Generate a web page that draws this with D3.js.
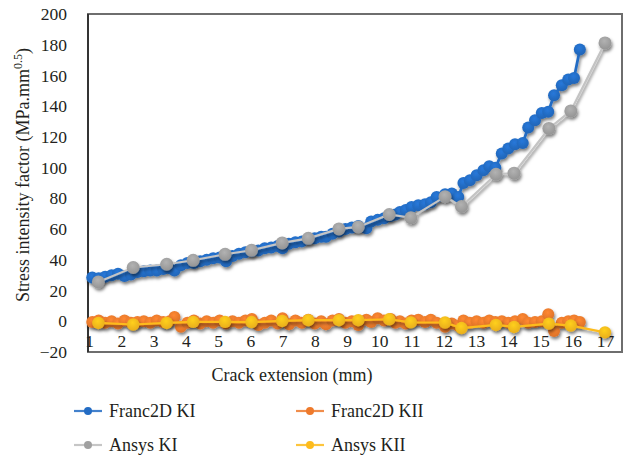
<!DOCTYPE html>
<html>
<head>
<meta charset="utf-8">
<script src="https://cdn.jsdelivr.net/npm/d3@7"></script>
<style>
  html, body { margin: 0; padding: 0; background: #fff; }
  svg { display: block; font-family: "Liberation Serif", "DejaVu Serif", serif; }
</style>
</head>
<body>
<div id="chart"></div>
<script>
// Crack extension (mm) for each solver's crack-growth steps
const francX = [1.10, 1.30, 1.50, 1.70, 1.90, 2.10, 2.30, 2.50, 2.70, 2.90,
  3.10, 3.30, 3.50, 3.65, 3.85, 4.05, 4.25, 4.45, 4.65, 4.85,
  5.05, 5.25, 5.45, 5.65, 5.85, 6.05, 6.25, 6.45, 6.65, 6.85,
  7.00, 7.20, 7.40, 7.60, 7.80, 8.00, 8.20, 8.35, 8.55, 8.75,
  8.95, 9.15, 9.35, 9.60, 9.75, 9.95, 10.15, 10.35, 10.50, 10.64,
  10.82, 11.00, 11.21, 11.42, 11.60, 11.78, 12.04, 12.25, 12.45, 12.61,
  12.81, 13.02, 13.23, 13.41, 13.60, 13.80, 14.00, 14.21, 14.45, 14.62,
  14.83, 15.04, 15.24, 15.42, 15.66, 15.86, 16.04, 16.22];

// Franc2D mode I stress intensity factor
const francKI = [28.5, 28.0, 29.0, 30.0, 31.0, 29.5, 30.5, 32.0, 32.5, 33.0,
  33.0, 34.0, 34.5, 33.0, 36.5, 38.0, 38.0, 39.0, 40.0, 41.0,
  41.5, 39.0, 42.5, 44.0, 45.0, 45.5, 46.0, 47.5, 48.0, 49.0,
  47.5, 50.5, 51.5, 52.0, 53.5, 54.0, 55.0, 55.0, 57.0, 58.5,
  60.0, 61.0, 62.0, 60.5, 65.0, 66.0, 67.0, 68.5, 69.5, 71.2,
  72.5, 74.4, 75.5, 76.2, 77.5, 80.9, 82.7, 83.1, 80.9, 90.0,
  91.8, 95.1, 98.3, 100.9, 100.0, 109.2, 112.4, 115.2, 116.1, 126.1,
  130.9, 135.6, 136.3, 147.1, 153.6, 157.4, 158.4, 176.9];

// Franc2D mode II stress intensity factor
const francKII = [-0.5, 0.5, -1.0, 0.0, -1.5, 0.5, -1.0, -0.5, 0.0, -1.0,
  0.5, -0.5, 0.0, 2.8, -3.5, -1.0, 0.5, -1.5, 0.0, -1.0,
  0.5, -1.5, 0.0, -1.0, 0.5, 1.5, -2.5, -1.0, 0.5, -1.5,
  2.0, -2.0, 0.5, -1.0, 1.0, -1.5, 0.0, -2.0, 0.5, 1.5,
  -1.0, 0.0, -2.5, 1.0, -0.5, 2.0, 0.5, 1.5, -1.0, 0.0,
  -1.5, 0.5, 1.0, -0.5, 1.0, -1.0, -3.5, -1.5, -3.0, 0.5,
  -1.0, 0.0, -1.0, 0.5, -0.5, 0.0, -1.0, 0.0, 1.5, -1.0,
  -0.5, 0.0, 4.5, -6.3, -1.0, 0.0, 0.5, -0.5];

const ansysX = [1.29, 2.37, 3.41, 4.23, 5.22, 6.04, 6.99, 7.80, 8.75, 9.35,
  10.31, 10.98, 12.04, 12.55, 13.62, 14.18, 15.26, 15.94, 17.00];

// Ansys mode I and mode II stress intensity factors
const ansysKI = [25.6, 35.0, 37.1, 39.7, 43.6, 46.2, 51.0, 54.0, 60.1, 61.4,
  69.5, 67.4, 81.1, 74.7, 95.7, 96.4, 125.5, 136.9, 181.2];
const ansysKII = [-1.1, -2.1, -1.1, -0.4, -0.4, -0.5, 0.2, 0.7, 0.7, 0.7,
  1.3, -0.7, -0.8, -4.4, -2.4, -3.7, -1.5, -2.8, -7.2];

const xTicks = [1, 2, 3, 4, 5, 6, 7, 8, 9, 10, 11, 12, 13, 14, 15, 16, 17];
const yTicks = [-20, 0, 20, 40, 60, 80, 100, 120, 140, 160, 180, 200];

const seriesNames = ["Franc2D KI", "Franc2D KII", "Ansys KI", "Ansys KII"];
const seriesColors = ["#236cc4", "#ee7a2c", "#a0a0a0", "#fdbb1c"];
const lineColors = ["#236cc4", "#ee7a2c", "#c4c4c4", "#fdbb1c"];

const series = [
  { name: seriesNames[0], xs: francX, ys: francKI, color: seriesColors[0], line: lineColors[0], r: 6 },
  { name: seriesNames[1], xs: francX, ys: francKII, color: seriesColors[1], line: lineColors[1], r: 6 },
  { name: seriesNames[2], xs: ansysX, ys: ansysKI, color: seriesColors[2], line: lineColors[2], r: 6.5 },
  { name: seriesNames[3], xs: ansysX, ys: ansysKII, color: seriesColors[3], line: lineColors[3], r: 6.2 }
];

const W = 626, H = 460;
const plot = { left: 88, top: 14, right: 622, bottom: 352 };

const svg = d3.select("#chart").append("svg")
  .attr("width", W).attr("height", H);

const defs = svg.append("defs");
const shadow = defs.append("filter").attr("id", "shadow")
  .attr("x", "-50%").attr("y", "-50%").attr("width", "200%").attr("height", "200%");
shadow.append("feDropShadow")
  .attr("dx", 1.2).attr("dy", 2.4).attr("stdDeviation", 1.8)
  .attr("flood-color", "#000").attr("flood-opacity", 0.5);

// subtle shading on the round markers
series.forEach((s, i) => {
  const g = defs.append("radialGradient").attr("id", "mk" + i)
    .attr("cx", "45%").attr("cy", "35%").attr("r", "70%");
  g.append("stop").attr("offset", "0%").attr("stop-color", d3.color(s.color).brighter(0.3));
  g.append("stop").attr("offset", "100%").attr("stop-color", d3.color(s.color).darker(0.25));
});

const x = d3.scaleLinear().domain([1, 17 + (plot.right - 605) / 32.25]).range([plot.left + 1, plot.right]);
const y = d3.scaleLinear().domain([-20, 200]).range([plot.bottom, plot.top]);

// plot frame
svg.append("rect")
  .attr("x", plot.left).attr("y", plot.top)
  .attr("width", plot.right - plot.left).attr("height", plot.bottom - plot.top)
  .attr("fill", "none").attr("stroke", "#6e6e6e").attr("stroke-width", 2);
svg.append("line")
  .attr("x1", plot.left).attr("x2", plot.left)
  .attr("y1", plot.top).attr("y2", plot.bottom)
  .attr("stroke", "#222").attr("stroke-width", 1.5);

// y axis tick labels
const yAxis = d3.axisLeft(y).tickValues(yTicks).tickSize(0).tickPadding(21)
  .tickFormat(d3.format("d"));
const gy = svg.append("g").attr("transform", `translate(${plot.left},0)`).call(yAxis);
gy.select(".domain").remove();
gy.selectAll("text").attr("font-size", 17.5).attr("fill", "#231f20")
  .attr("font-family", "Liberation Serif, serif");

// x tick labels sit just above the bottom edge of the frame
const xAxis = d3.axisBottom(x).tickValues(xTicks).tickSize(0).tickPadding(0)
  .tickFormat(d3.format("d"));
const gx = svg.append("g").attr("transform", `translate(0,${plot.bottom - 17})`).call(xAxis);
gx.select(".domain").remove();
gx.selectAll("text").attr("font-size", 17.5).attr("fill", "#231f20")
  .attr("font-family", "Liberation Serif, serif");

// axis titles
svg.append("text")
  .attr("x", 292).attr("y", 381)
  .attr("text-anchor", "middle").attr("font-size", 18).attr("fill", "#231f20")
  .text("Crack extension (mm)");

const yt = svg.append("text")
  .attr("transform", `translate(29,${(plot.top + plot.bottom) / 2 - 8}) rotate(-90)`)
  .attr("text-anchor", "middle").attr("font-size", 18).attr("fill", "#231f20");
yt.append("tspan").text("Stress intensity factor (MPa.mm");
yt.append("tspan").attr("font-size", 12).attr("dy", -7).text("0.5");
yt.append("tspan").attr("dy", 7).text(")");

// series
const line = d3.line().x(d => x(d[0])).y(d => y(d[1]));
series.forEach((s, i) => {
  const pts = s.xs.map((v, k) => [v, s.ys[k]]);
  const g = svg.append("g").attr("class", "series").attr("filter", "url(#shadow)");
  g.append("path").datum(pts)
    .attr("d", line).attr("fill", "none")
    .attr("stroke", s.line).attr("stroke-width", i === 0 ? 2.8 : 2.2);
  g.selectAll("circle").data(pts).enter().append("circle")
    .attr("cx", d => x(d[0])).attr("cy", d => y(d[1]))
    .attr("r", s.r).attr("fill", `url(#mk${i})`);
});

// legend
const legendPos = [[74, 411], [296, 411], [74, 445], [296, 445]];
series.forEach((s, i) => {
  const [lx, ly] = legendPos[i];
  const g = svg.append("g").attr("transform", `translate(${lx},${ly})`);
  g.append("line").attr("x1", 0).attr("x2", 28).attr("y1", 0).attr("y2", 0)
    .attr("stroke", s.line === "#c4c4c4" ? "#bdbdbd" : s.line).attr("stroke-width", 2.2).attr("opacity", 0.85);
  g.append("circle").attr("cx", 14).attr("cy", 0).attr("r", 4).attr("fill", s.color);
  g.append("text").attr("x", 35).attr("y", 0).attr("dy", "0.35em")
    .attr("font-size", 18).attr("fill", "#231f20").text(s.name);
});
</script>
</body>
</html>
